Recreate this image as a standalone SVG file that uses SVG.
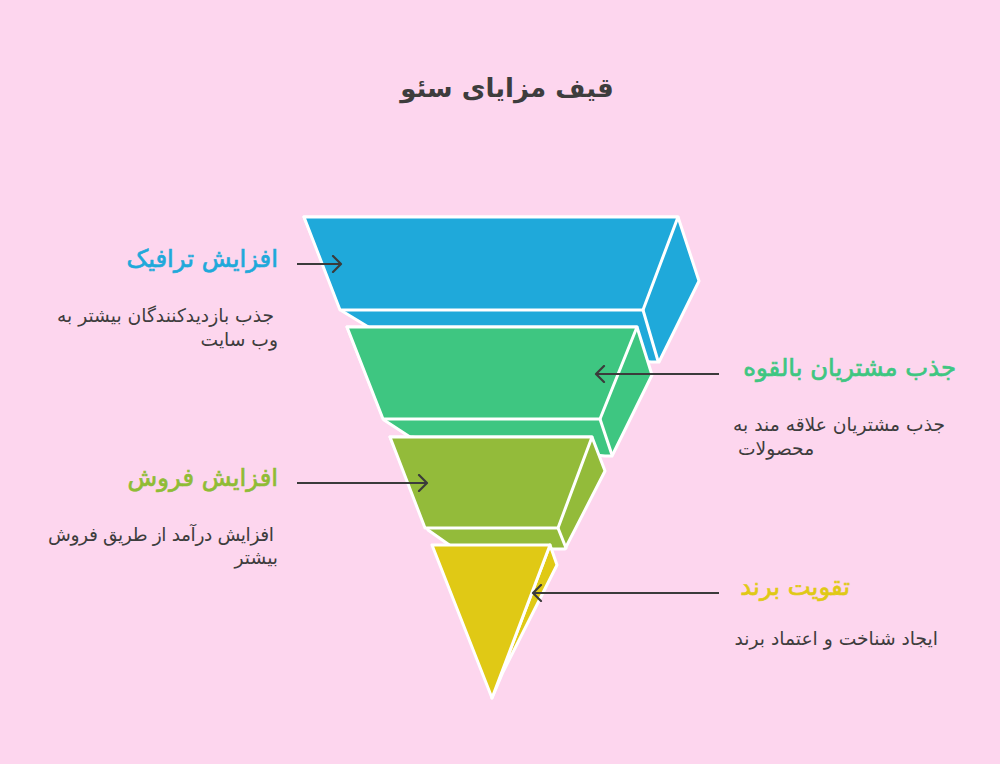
<svg xmlns="http://www.w3.org/2000/svg" width="1000" height="764" viewBox="0 0 1000 764">
<defs>
<marker id="arr" viewBox="0 0 12 18" refX="10" refY="9" markerWidth="12" markerHeight="18" markerUnits="userSpaceOnUse" orient="auto">
<path d="M2,1 L10,9 L2,17" fill="none" stroke="#3b3b3b" stroke-width="2.2" stroke-linecap="round" stroke-linejoin="round"/>
</marker>
</defs>
<style>
.bg{fill:#fdd6ee}
.s{stroke:#ffffff;stroke-width:3;stroke-linejoin:round}
.blue{fill:#1fa9da}.green{fill:#3ec681}.olive{fill:#93bb3a}.yellow{fill:#e0c915}
.edge{fill:none;stroke:#ffffff;stroke-width:3;stroke-linecap:round}
.conn{fill:none;stroke:#3b3b3b;stroke-width:2.2;marker-end:url(#arr)}
text{font-family:"DejaVu Sans","Noto Sans",sans-serif}
.title{font-size:26px;font-weight:bold;fill:#3d3d3d}
.h{font-size:24.3px;stroke-width:0.7px}
.d{font-size:18.7px;fill:#3d3d3d}
</style>
<rect class="bg" x="0" y="0" width="1000" height="764"/>
<text class="title" x="507" y="97" text-anchor="middle">قیف مزایای سئو</text>

<g id="level-blue">
<polygon class="s blue" points="304,217 678,217 699,281 659,362 651,362 370,328 342,311"/>
<polygon class="s blue" points="304,217 678,217 643,310 340,310"/>
<line class="edge" x1="643" y1="310" x2="658" y2="361"/>
</g>
<g id="level-green">
<polygon class="s green" points="347,327 637,327 652,375 612,456 605,456 410,437 384,420"/>
<polygon class="s green" points="347,327 637,327 600,419 383,419"/>
<line class="edge" x1="600" y1="419" x2="612" y2="455"/>
</g>
<g id="level-olive">
<polygon class="s olive" points="390,437 592,437 605,471 565,549 558,549 455,549 428,530"/>
<polygon class="s olive" points="390,437 592,437 558,528 425,528"/>
<line class="edge" x1="558" y1="528" x2="566" y2="548"/>
</g>
<g id="level-yellow">
<polygon class="s yellow" points="550,545 557,565 503,672 492,698"/>
<polygon class="s yellow" points="432,545 550,545 492,698"/>
</g>

<g id="connectors">
<line class="conn" x1="297" y1="264" x2="341" y2="264"/>
<line class="conn" x1="719" y1="374" x2="596" y2="374"/>
<line class="conn" x1="297" y1="483" x2="427" y2="483"/>
<line class="conn" x1="719" y1="593" x2="533" y2="593"/>
</g>

<g id="label-traffic">
<text class="h" x="278" y="267" text-anchor="end" fill="#1fa9da" stroke="#1fa9da">افزایش ترافیک</text>
<text class="d" x="274" y="322" text-anchor="end">جذب بازدیدکنندگان بیشتر به</text>
<text class="d" x="278" y="346" text-anchor="end">وب سایت</text>
</g>
<g id="label-customers">
<text class="h" x="956" y="376" text-anchor="end" fill="#3ec681" stroke="#3ec681">جذب مشتریان بالقوه</text>
<text class="d" x="945" y="431" text-anchor="end">جذب مشتریان علاقه مند به</text>
<text class="d" x="738" y="455" text-anchor="start">محصولات</text>
</g>
<g id="label-sales">
<text class="h" x="278" y="486" text-anchor="end" fill="#8fbc35" stroke="#8fbc35">افزایش فروش</text>
<text class="d" x="274" y="541" text-anchor="end" textLength="226">افزایش درآمد از طریق فروش</text>
<text class="d" x="278" y="564" text-anchor="end">بیشتر</text>
</g>
<g id="label-brand">
<text class="h" x="850" y="595" text-anchor="end" fill="#e0c915" stroke="#e0c915">تقویت برند</text>
<text class="d" x="938" y="645" text-anchor="end">ایجاد شناخت و اعتماد برند</text>
</g>
</svg>
